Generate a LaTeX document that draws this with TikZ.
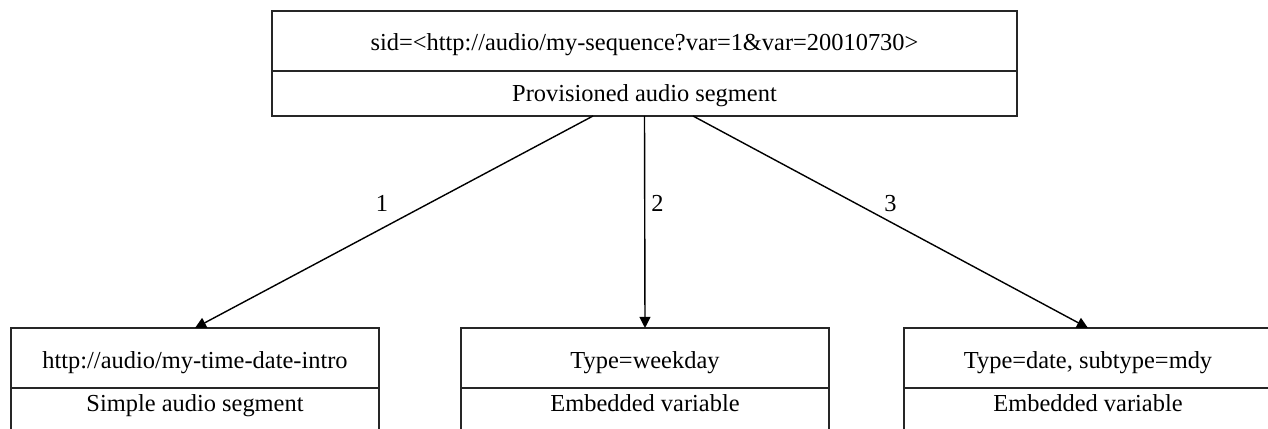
\documentclass[tikz,border=0pt]{standalone}
\usepackage{fontspec}
\setmainfont{Liberation Serif}
\usepackage{tikz}
\usetikzlibrary{shapes}
\usetikzlibrary{arrows.meta,positioning}
\tikzstyle{cell}=[draw=black!85, line width=0.7pt, outer sep=0pt, inner sep=0pt, minimum width=7.36cm, minimum height=0pt, text height=0.8cm, text depth=0.4cm]
\tikzstyle{wide}=[cell, minimum width=14.9cm]
\tikzstyle{low}=[text height=0.62cm, text depth=0.28cm]
\tikzstyle{tail}=[text height=0.48cm, text depth=0.56cm]
\tikzstyle{link}=[-{Triangle[length=6.3pt,width=6.2pt]}, line width=0.8pt]

\begin{document}
\begin{tikzpicture}[x=0.02cm,y=-0.02cm,font=\fontsize{13.9}{16}\selectfont]
\useasboundingbox (0,0) rectangle (1268,429);
\clip (0,0) rectangle (1268,429);
% provisioned segment
\node[wide] (sid) at (644.5,41) {sid=<http://audio/my-sequence?var=1\&var=20010730>};
\node[wide,low,below=0pt of sid] (prov) {Provisioned audio segment};
% the three parts
\node[cell] (intro) at (195,358) {http://audio/my-time-date-intro};
\node[cell,tail,below=0pt of intro] (simple) {Simple audio segment};
\node[cell] (wkday) at (645,358) {Type=weekday};
\node[cell,tail,below=0pt of wkday] (embA) {Embedded variable};
\node[cell] (date) at (1088,358) {Type=date, subtype=mdy};
\node[cell,tail,below=0pt of date] (embB) {Embedded variable};
% order of play
\draw[link] ([xshift=-1.03cm]prov.south) -- node[pos=.53, above=6pt] (n1) {1} (intro.north);
\draw[link] (prov.south) -- node[pos=.41, right] (n2) {2} (wkday.north);
\draw[link] ([xshift=0.97cm]prov.south) -- node[pos=.5, above=2pt] (n3) {3} (date.north);
\end{tikzpicture}
\end{document}
